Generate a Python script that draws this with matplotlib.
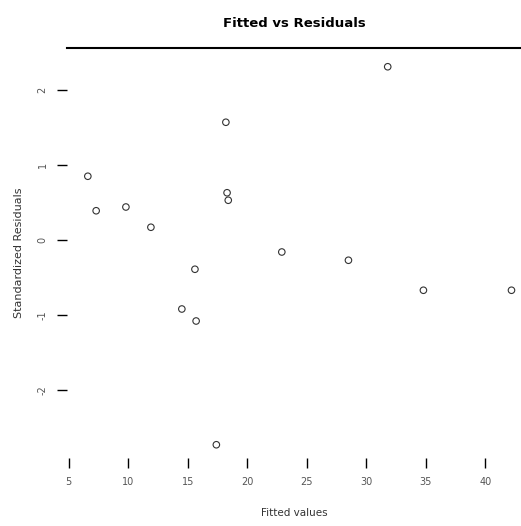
import matplotlib.pyplot as plt
import numpy as np

# Data (fitted values vs standardized residuals)
fitted = [31.8, 18.2, 6.6, 7.3, 9.8, 11.9, 18.3, 18.4, 22.9, 28.5,
          15.6, 14.5, 15.7, 17.4, 34.8, 42.2]
resid = [2.31, 1.57, 0.85, 0.39, 0.44, 0.17, 0.63, 0.53, -0.16, -0.27,
         -0.39, -0.92, -1.08, -2.73, -0.67, -0.67]
xticks = [5, 10, 15, 20, 25, 30, 35, 40]
yticks = [-2, -1, 0, 1, 2]

W, H = 521, 526
fig = plt.figure(figsize=(W / 100, H / 100), dpi=100)
ax = fig.add_axes([67 / W, 1 - 458 / H, (W - 67) / W, (458 - 48) / H])

ax.scatter(fitted, resid, s=22, facecolors='none', edgecolors='#333333',
           linewidths=0.8, clip_on=False)

ax.set_xlim(4.85, 43.0)
ax.set_ylim((240 - 458) / 75, (240 - 48) / 75)
ax.set_xticks(xticks)
ax.set_yticks(yticks)
ax.set_yticklabels([str(v) for v in yticks], rotation=90, va='center')

for s in ['left', 'right', 'bottom']:
    ax.spines[s].set_visible(False)
ax.spines['top'].set_linewidth(1.5)

ax.tick_params(axis='both', direction='out', length=7, width=1,
               labelsize=7, labelcolor='#555555', color='black')
ax.tick_params(axis='x', pad=7)
ax.tick_params(axis='y', pad=7)

ax.set_title('Fitted vs Residuals', fontsize=9.5, fontweight='bold', pad=15)
ax.set_xlabel('Fitted values', fontsize=7.5, color='#333333', labelpad=15)
ax.set_ylabel('Standardized Residuals', fontsize=8, color='#333333',
              labelpad=10)

plt.savefig('out.png', dpi=100)
